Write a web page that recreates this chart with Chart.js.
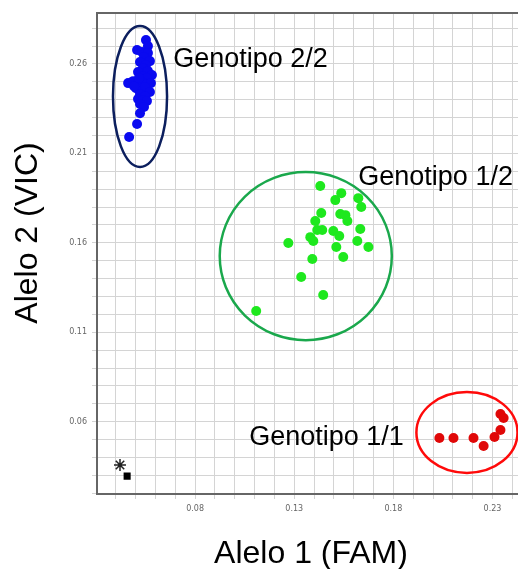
<!DOCTYPE html>
<html>
<head>
<meta charset="utf-8">
<script src="https://cdn.jsdelivr.net/npm/chart.js@4/dist/chart.umd.min.js"></script>
<style>
html,body{margin:0;padding:0;background:#fff;overflow:hidden;}
#wrap{width:518px;height:569px;position:relative;overflow:hidden;}
canvas{display:block;}
</style>
</head>
<body>
<div id="wrap"><canvas id="c" width="526" height="569"></canvas></div>
<script>
// ---- data (Alelo 1 = FAM on x, Alelo 2 = VIC on y) ----
const geno22X = [0.0552,0.0562,0.0507,0.0532,0.0562,0.0542,0.0522,0.0572,0.0552,0.0537,0.0512,0.0562,0.0582,0.0537,0.0557,0.0462,0.0487,0.0512,0.0532,0.0557,0.0577,0.0502,0.0527,0.0547,0.0572,0.0522,0.0547,0.0512,0.0537,0.0557,0.0522,0.0542,0.0522,0.0507,0.0467,0.0492,0.0517];
const geno22Y = [0.2734,0.2700,0.2678,0.2667,0.2661,0.2639,0.2611,0.2616,0.2594,0.2577,0.2555,0.2560,0.2538,0.2532,0.2521,0.2493,0.2504,0.2488,0.2499,0.2488,0.2493,0.2465,0.2460,0.2471,0.2443,0.2432,0.2420,0.2404,0.2398,0.2393,0.2376,0.2359,0.2325,0.2264,0.2192,0.2476,0.2521];

const geno12X = [0.1431,0.1537,0.1507,0.1623,0.1638,0.1436,0.1406,0.1532,0.1558,0.1568,0.1416,0.1441,0.1497,0.1527,0.1633,0.1381,0.1396,0.1270,0.1512,0.1618,0.1674,0.1547,0.1391,0.1335,0.1446,0.1108];
const geno12Y = [0.1918,0.1878,0.1839,0.1850,0.1800,0.1767,0.1722,0.1761,0.1755,0.1722,0.1672,0.1672,0.1666,0.1638,0.1677,0.1632,0.1610,0.1599,0.1577,0.1610,0.1577,0.1521,0.1510,0.1409,0.1308,0.1219];

const geno11X = [0.2032,0.2103,0.2204,0.2255,0.2310,0.2340,0.2340,0.2356];
const geno11Y = [0.0509,0.0509,0.0509,0.0464,0.0515,0.0554,0.0643,0.0621];

const ctrlX = [0.0421];   // no-template control (asterisk)
const ctrlY = [0.0358];
const undetX = [0.0457];  // undetermined (square)
const undetY = [0.0296];

const xTickLabels = ['0.08','0.13','0.18','0.23'];
const yTickLabels = ['0.06','0.11','0.16','0.21','0.26'];

// cluster outlines: centre x, centre y, radius x, radius y (data units)
const ellipse22 = [0.0522,0.2418,0.01364,0.0394];
const ellipse12 = [0.1358,0.1526,0.0434,0.0470];
const ellipse11 = [0.2171,0.0540,0.0255,0.0226];

const clusterNames = ['Genotipo 2/2','Genotipo 1/2','Genotipo 1/1'];
const nameX = [0.0689,0.1623,0.1073];
const nameY = [0.2583,0.1923,0.0470];

const xTitle = 'Alelo 1 (FAM)';
const yTitle = 'Alelo 2 (VIC)';

const xMin = 0.0305, xMax = 0.2431, yMin = 0.0196, yMax = 0.2885;

function pts(xs, ys){ return xs.map((x,i)=>({x:x,y:ys[i]})); }
function gridTicks(a,b){ const t=[]; for(let k=Math.ceil(a*100);k<=Math.floor(b*100);k++) t.push({value:k/100}); return t; }
function fmt(v){ return (Math.round(v*100)/100).toFixed(2); }

const overlay = {
  id:'overlay',
  afterDatasetsDraw(chart){
    const ctx = chart.ctx, xs = chart.scales.x, ys = chart.scales.y, ca = chart.chartArea;
    ctx.save();
    // top border
    ctx.strokeStyle = '#666'; ctx.lineWidth = 2;
    ctx.beginPath(); ctx.moveTo(ca.left, ca.top); ctx.lineTo(ca.right, ca.top); ctx.stroke();
    const ells = [[ellipse22,'#0c1f5e'],[ellipse12,'#1aa84c'],[ellipse11,'#ff0a0a']];
    ells.forEach(([e,col])=>{
      const cx = xs.getPixelForValue(e[0]), cy = ys.getPixelForValue(e[1]);
      const rx = Math.abs(xs.getPixelForValue(e[0]+e[2]) - cx);
      const ry = Math.abs(ys.getPixelForValue(e[1]+e[3]) - cy);
      ctx.strokeStyle = col; ctx.lineWidth = 2.5;
      ctx.beginPath(); ctx.ellipse(cx, cy, rx, ry, 0, 0, Math.PI*2); ctx.stroke();
    });
    ctx.fillStyle = '#000';
    ctx.font = '27px "Liberation Sans", Arial, sans-serif';
    ctx.textAlign = 'left'; ctx.textBaseline = 'alphabetic';
    clusterNames.forEach((n,i)=>{
      ctx.fillText(n, xs.getPixelForValue(nameX[i]), ys.getPixelForValue(nameY[i]));
    });
    // axis titles
    ctx.font = '32px "Liberation Sans", Arial, sans-serif';
    ctx.textAlign = 'center';
    ctx.fillText(xTitle, 311, 563);
    ctx.translate(37, 233); ctx.rotate(-Math.PI/2);
    ctx.fillText(yTitle, 0, 0);
    ctx.restore();
  }
};

new Chart(document.getElementById('c'), {
  type:'scatter',
  data:{ datasets:[
    {data:pts(geno22X,geno22Y), backgroundColor:'#0a0af0', borderWidth:0, pointRadius:5},
    {data:pts(geno12X,geno12Y), backgroundColor:'#1ee81e', borderWidth:0, pointRadius:5},
    {data:pts(geno11X,geno11Y), backgroundColor:'#e00808', borderWidth:0, pointRadius:5},
    {data:pts(ctrlX,ctrlY), pointStyle:'star', borderColor:'#222', borderWidth:1.5, pointRadius:6, backgroundColor:'#222'},
    {data:pts(undetX,undetY), pointStyle:'rect', backgroundColor:'#000', borderColor:'#000', borderWidth:0, pointRadius:5}
  ]},
  options:{
    responsive:false, animation:false, devicePixelRatio:1,
    layout:{padding:{top:13,right:0,left:0,bottom:0}},
    plugins:{legend:{display:false}, tooltip:{enabled:false}},
    scales:{
      x:{
        type:'linear', min:xMin, max:xMax,
        afterBuildTicks(s){ s.ticks = gridTicks(xMin,xMax); },
        afterFit(s){ s.height = 75; s.paddingRight = 0; },
        grid:{color:'#d4d4d4', lineWidth:1, tickLength:5, drawTicks:true},
        border:{color:'#666', width:2},
        ticks:{autoSkip:false, maxRotation:0, padding:5, color:'#666',
          font:{size:8, family:'"DejaVu Sans", sans-serif'},
          callback(v){ const l=fmt(v); return xTickLabels.includes(l)?l:''; }}
      },
      y:{
        type:'linear', min:yMin, max:yMax,
        afterBuildTicks(s){ s.ticks = gridTicks(yMin,yMax); },
        afterFit(s){ s.width = 97; },
        grid:{color:'#d4d4d4', lineWidth:1, tickLength:5, drawTicks:true},
        border:{color:'#666', width:2},
        ticks:{autoSkip:false, padding:5, color:'#666',
          font:{size:8, family:'"DejaVu Sans", sans-serif'},
          callback(v){ const l=fmt(v); return yTickLabels.includes(l)?l:''; }}
      }
    }
  },
  plugins:[overlay]
});
</script>
</body>
</html>
